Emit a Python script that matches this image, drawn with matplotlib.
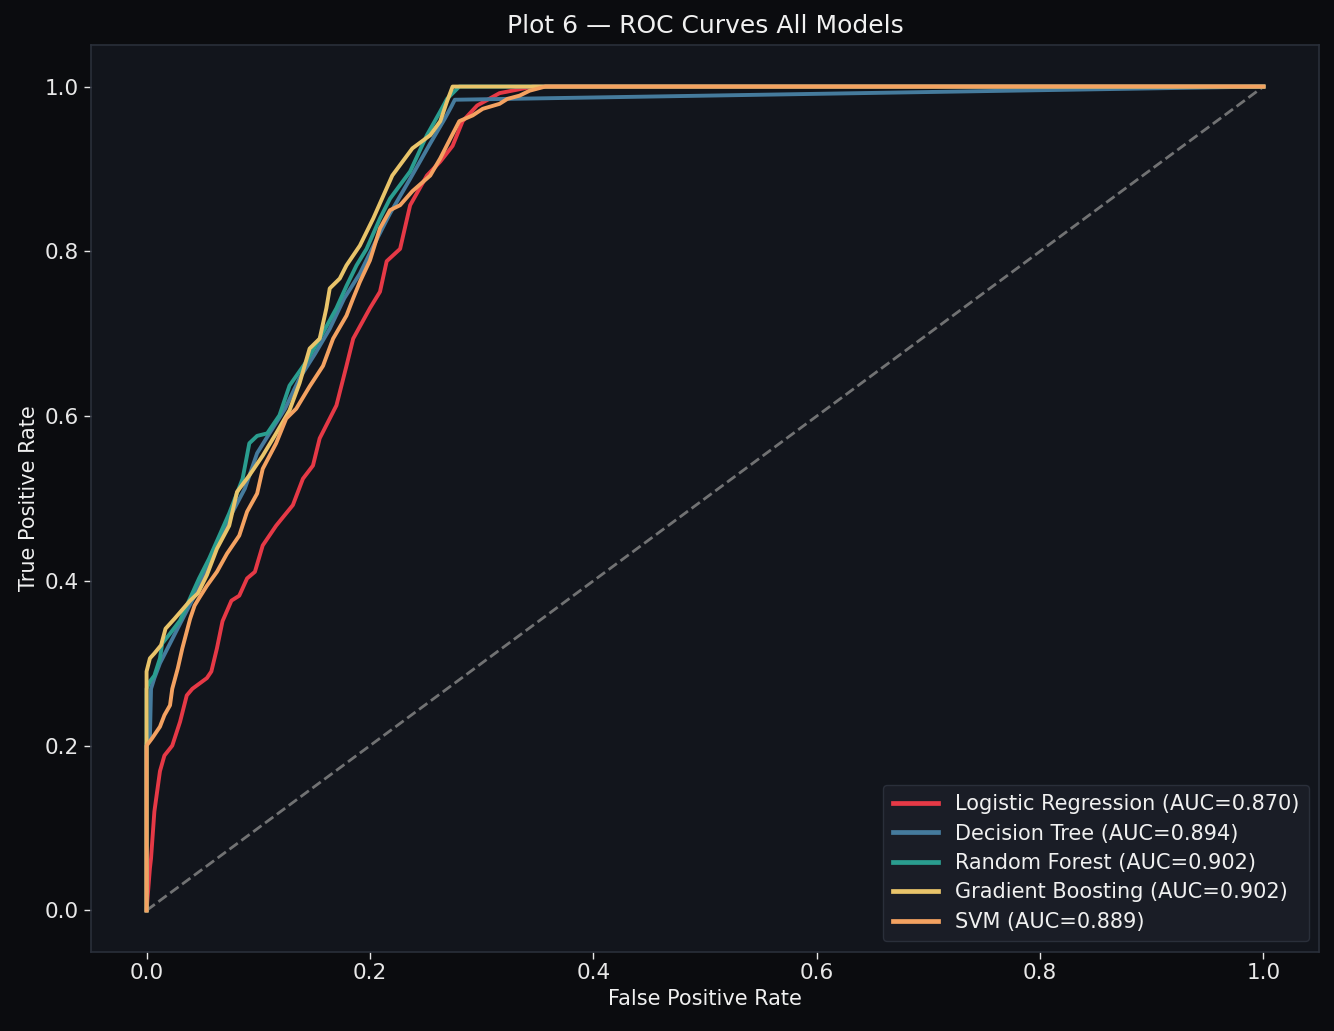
import matplotlib
matplotlib.use('Agg')
import matplotlib.pyplot as plt

# ROC points (fpr, tpr)
lr_fpr = [0, 0.003, 0.004, 0.007, 0.012, 0.016, 0.023, 0.030, 0.036, 0.041, 0.054, 0.058, 0.063,
          0.068, 0.076, 0.083, 0.090, 0.097, 0.104, 0.116, 0.131, 0.140, 0.149, 0.155, 0.161, 0.170,
          0.179, 0.185, 0.200, 0.209, 0.215, 0.227, 0.236, 0.251, 0.263, 0.274, 0.283, 0.296, 0.316,
          0.346, 1.0]
lr_tpr = [0, 0.051, 0.063, 0.120, 0.169, 0.188, 0.200, 0.229, 0.261, 0.269, 0.282, 0.290, 0.318,
          0.351, 0.376, 0.382, 0.403, 0.411, 0.443, 0.467, 0.492, 0.524, 0.540, 0.573, 0.589, 0.613,
          0.661, 0.694, 0.731, 0.751, 0.788, 0.803, 0.856, 0.892, 0.909, 0.928, 0.958, 0.977, 0.992,
          1.0, 1.0]

dt_fpr = [0, 0, 0.003, 0.004, 0.007, 0.012, 0.021, 0.030, 0.043, 0.056, 0.074, 0.088, 0.099, 0.110,
          0.124, 0.137, 0.151, 0.164, 0.177, 0.191, 0.204, 0.218, 0.236, 0.254, 0.267, 0.273, 0.276, 1.0]
dt_tpr = [0, 0.203, 0.209, 0.269, 0.282, 0.300, 0.324, 0.348, 0.382, 0.421, 0.476, 0.512, 0.555, 0.579,
          0.609, 0.646, 0.676, 0.706, 0.743, 0.773, 0.809, 0.846, 0.888, 0.931, 0.961, 0.976, 0.984, 1.0]

rf_fpr = [0, 0, 0.003, 0.007, 0.012, 0.014, 0.021, 0.030, 0.039, 0.047, 0.056, 0.074, 0.086, 0.092,
          0.099, 0.108, 0.119, 0.128, 0.143, 0.155, 0.170, 0.179, 0.188, 0.197, 0.209, 0.218, 0.236,
          0.251, 0.263, 0.269, 0.280, 1.0]
rf_tpr = [0, 0.269, 0.278, 0.285, 0.306, 0.324, 0.336, 0.352, 0.379, 0.403, 0.427, 0.482, 0.524, 0.567,
          0.576, 0.579, 0.601, 0.637, 0.666, 0.694, 0.731, 0.758, 0.783, 0.803, 0.840, 0.864, 0.897,
          0.941, 0.970, 0.985, 1.0, 1.0]

gb_fpr = [0, 0, 0.003, 0.007, 0.013, 0.017, 0.025, 0.039, 0.046, 0.054, 0.063, 0.074, 0.081, 0.092,
          0.104, 0.116, 0.128, 0.137, 0.146, 0.155, 0.161, 0.164, 0.173, 0.179, 0.191, 0.203, 0.220,
          0.238, 0.254, 0.263, 0.269, 0.274, 1.0]
gb_tpr = [0, 0.290, 0.306, 0.312, 0.322, 0.342, 0.354, 0.376, 0.385, 0.407, 0.439, 0.467, 0.508, 0.528,
          0.552, 0.579, 0.607, 0.640, 0.682, 0.694, 0.731, 0.755, 0.767, 0.783, 0.807, 0.840, 0.892,
          0.925, 0.941, 0.958, 0.982, 1.0, 1.0]

svm_fpr = [0, 0, 0.005, 0.012, 0.016, 0.021, 0.023, 0.028, 0.032, 0.039, 0.043, 0.047, 0.054, 0.063,
           0.072, 0.083, 0.090, 0.099, 0.104, 0.116, 0.125, 0.134, 0.146, 0.158, 0.167, 0.179, 0.185,
           0.191, 0.200, 0.209, 0.218, 0.227, 0.238, 0.254, 0.263, 0.272, 0.280, 0.292, 0.301, 0.316,
           0.323, 0.334, 0.343, 0.357, 1.0]
svm_tpr = [0, 0.200, 0.209, 0.223, 0.237, 0.249, 0.269, 0.294, 0.318, 0.354, 0.370, 0.379, 0.394, 0.411,
           0.433, 0.455, 0.484, 0.506, 0.536, 0.567, 0.597, 0.609, 0.636, 0.661, 0.694, 0.722, 0.743,
           0.763, 0.789, 0.828, 0.850, 0.856, 0.873, 0.892, 0.913, 0.937, 0.958, 0.965, 0.973, 0.979,
           0.985, 0.989, 0.995, 1.0, 1.0]

models = ['Logistic Regression', 'Decision Tree', 'Random Forest', 'Gradient Boosting', 'SVM']
aucs = [0.870, 0.894, 0.902, 0.902, 0.889]
curves = [(lr_fpr, lr_tpr), (dt_fpr, dt_tpr), (rf_fpr, rf_tpr), (gb_fpr, gb_tpr), (svm_fpr, svm_tpr)]
colors = ['#E63946', '#457B9D', '#2A9D8F', '#E9C46A', '#F4A261']

fig = plt.figure(figsize=(13.34, 10.31), dpi=100, facecolor='#0b0c0f')
ax = fig.add_axes([0.068, 0.077, 0.921, 0.879])
ax.set_facecolor('#12151c')

ax.plot([0, 1], [0, 1], '--', color='#8a8a8a', lw=2, alpha=0.8, zorder=1)
for (fpr, tpr), name, auc, c in zip(curves, models, aucs, colors):
    ax.plot(fpr, tpr, color=c, lw=2.8, label=f'{name} (AUC={auc:.3f})', zorder=2)

for s in ax.spines.values():
    s.set_color('#2a2f3a')
    s.set_linewidth(1.2)
ax.tick_params(colors='#e8e8e8', labelsize=15.5, length=5, width=1)
ax.set_xticks([0, 0.2, 0.4, 0.6, 0.8, 1.0])
ax.set_yticks([0, 0.2, 0.4, 0.6, 0.8, 1.0])
ax.set_xlabel('False Positive Rate', color='#f0f0f0', fontsize=15)
ax.set_ylabel('True Positive Rate', color='#f0f0f0', fontsize=15)
ax.set_title('Plot 6 — ROC Curves All Models', color='#f0f0f0', fontsize=18, pad=9)

leg = ax.legend(loc='lower right', fontsize=15, facecolor='#1a1d26', edgecolor='#2a2f3a',
                framealpha=1, handlelength=2.2, borderpad=0.45, labelspacing=0.45)
for t in leg.get_texts():
    t.set_color('#f0f0f0')
for l in leg.get_lines():
    l.set_linewidth(3.4)

fig.savefig('out.png', dpi=100, facecolor=fig.get_facecolor())
